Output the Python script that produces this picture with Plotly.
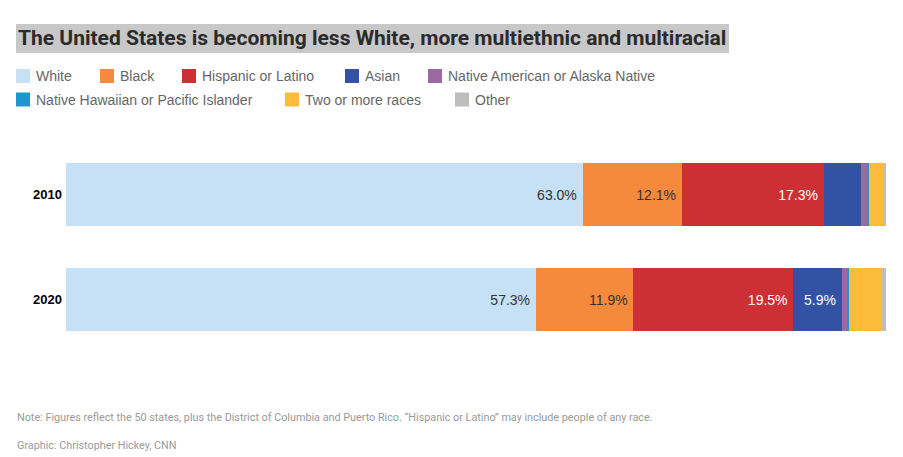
import plotly.graph_objects as go

# ---- data ----
years = ["2010", "2020"]
categories = ["White", "Black", "Hispanic or Latino", "Asian",
              "Native American or Alaska Native",
              "Native Hawaiian or Pacific Islander",
              "Two or more races", "Other"]
white = [63.0, 57.3]
black = [12.1, 11.9]
hispanic = [17.3, 19.5]
asian = [4.6, 5.9]
native_american = [0.7, 0.7]
pacific_islander = [0.2, 0.2]
two_or_more = [1.9, 4.0]
other = [0.2, 0.5]
series = [white, black, hispanic, asian, native_american,
          pacific_islander, two_or_more, other]

colors = ["#c6e0f5", "#f58a3c", "#cc3035", "#3452a4", "#9a6aa0",
          "#1c98cf", "#fcbb3b", "#bfbcbc"]
label_colors = ["#333333", "#333333", "#ffffff", "#ffffff",
                "#ffffff", "#ffffff", "#333333", "#333333"]

W, H = 903, 457
L, R, T, B = 66, 17, 142, 105
PW, PH = W - L - R, H - T - B


def px(x):
    return (x - L) / PW


def py(y):
    return (H - B - y) / PH


fig = go.Figure()
for name, vals, col, lc in zip(categories, series, colors, label_colors):
    fig.add_trace(go.Bar(
        y=years, x=vals, name=name, orientation="h",
        marker=dict(color=col, line=dict(width=0)),
        text=[f"{v:.1f}%\u2009" if v >= 5 else "" for v in vals],
        textposition="inside", insidetextanchor="end",
        textfont=dict(family="Liberation Sans, Arial, sans-serif", size=14, color=lc),
        constraintext="none",
        showlegend=False,
        hovertemplate="%{y}: %{x:.1f}%<extra>" + name + "</extra>",
    ))

shapes = []
annotations = []

# title with grey background
shapes.append(dict(type="rect", xref="paper", yref="paper",
                   x0=px(16), x1=px(729), y0=py(53), y1=py(24),
                   fillcolor="#c8c8c8", line=dict(width=0), layer="below"))
annotations.append(dict(
    xref="paper", yref="paper", x=px(16), y=py(38), xanchor="left", yanchor="middle",
    text="<b>The United States is becoming less White, more multiethnic and multiracial</b>",
    showarrow=False,
    font=dict(family="Roboto, sans-serif", size=21, color="#2b2b2b")))

# legend (manual layout)
legend_rows = [[0, 1, 2, 3, 4], [5, 6, 7]]
legend_x = [[16, 100, 182, 345, 428], [16, 285, 455]]
legend_y = [76, 99.5]
for row, xs, yc in zip(legend_rows, legend_x, legend_y):
    for i, x0 in zip(row, xs):
        shapes.append(dict(type="rect", xref="paper", yref="paper",
                           x0=px(x0), x1=px(x0 + 14), y0=py(yc + 7), y1=py(yc - 7),
                           fillcolor=colors[i], line=dict(width=0)))
        annotations.append(dict(
            xref="paper", yref="paper", x=px(x0 + 18), y=py(yc), xanchor="left",
            yanchor="middle", text=categories[i], showarrow=False,
            font=dict(family="Liberation Sans, Arial, sans-serif", size=14, color="#666666")))

# footnotes
foot_font = dict(family="Roboto, sans-serif", size=10.8, color="#9a9a9a")
annotations.append(dict(
    xref="paper", yref="paper", x=px(15), y=py(417), xanchor="left", yanchor="middle",
    showarrow=False, font=foot_font,
    text="Note: Figures reflect the 50 states, plus the District of Columbia and Puerto Rico. "
         "\u201cHispanic or Latino\u201d may include people of any race."))
annotations.append(dict(
    xref="paper", yref="paper", x=px(15), y=py(445), xanchor="left", yanchor="middle",
    showarrow=False, font=foot_font,
    text="Graphic: Christopher Hickey, CNN"))

fig.update_layout(
    width=W, height=H,
    margin=dict(l=L, r=R, t=T, b=B, pad=0),
    barmode="stack", bargap=0.4,
    plot_bgcolor="white", paper_bgcolor="white",
    shapes=shapes, annotations=annotations,
    xaxis=dict(range=[0, 100], visible=False, fixedrange=True),
    yaxis=dict(type="category", categoryarray=years, autorange="reversed",
               showgrid=False, zeroline=False, showline=False, ticks="",
               ticklabelstandoff=3, fixedrange=True,
               tickfont=dict(family="Liberation Sans, Arial, sans-serif", size=13,
                             color="#000000", weight="bold")),
)

fig.write_html("out.html", config={"displayModeBar": False},
               post_script="document.body.style.margin='0';")
